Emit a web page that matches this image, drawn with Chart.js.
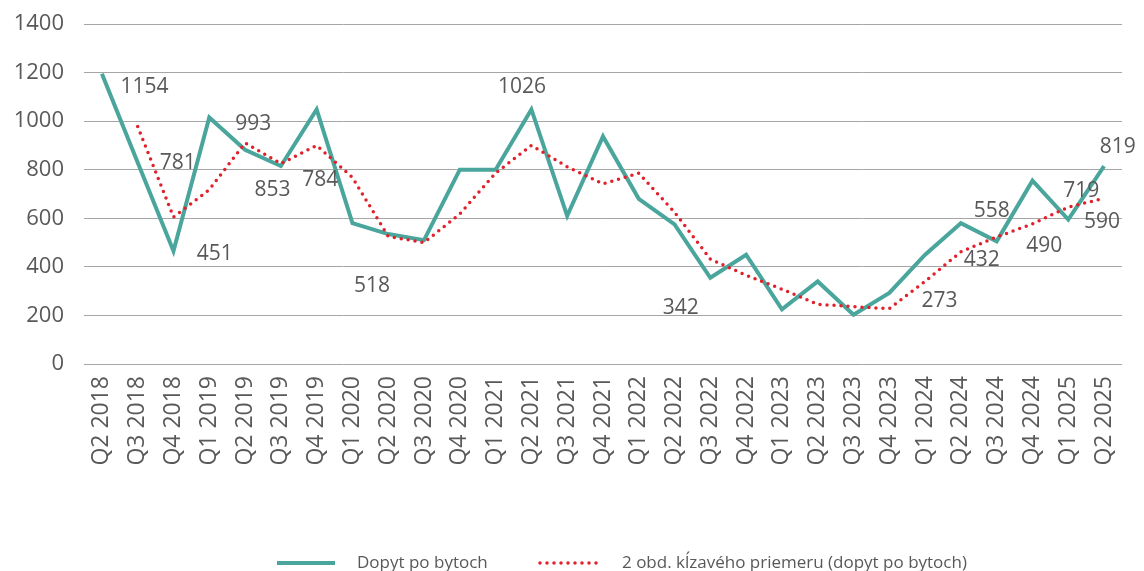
<!DOCTYPE html>
<html>
<head>
<meta charset="utf-8">
<script src="https://cdn.jsdelivr.net/npm/chart.js@4.4.1/dist/chart.umd.min.js"></script>
<style>
    html, body { margin: 0; padding: 0; background: #fff; }
    #wrap { width: 1144px; height: 571px; }
</style>
</head>
<body>
<div id="wrap"><canvas id="dopytChart"></canvas></div>
<script>
// Quarters on the x axis
const quarters = [
    'Q2 2018', 'Q3 2018', 'Q4 2018', 'Q1 2019', 'Q2 2019', 'Q3 2019', 'Q4 2019',
    'Q1 2020', 'Q2 2020', 'Q3 2020', 'Q4 2020', 'Q1 2021', 'Q2 2021', 'Q3 2021',
    'Q4 2021', 'Q1 2022', 'Q2 2022', 'Q3 2022', 'Q4 2022', 'Q1 2023', 'Q2 2023',
    'Q3 2023', 'Q4 2023', 'Q1 2024', 'Q2 2024', 'Q3 2024', 'Q4 2024', 'Q1 2025', 'Q2 2025'
];

// Dopyt po bytoch
const demand = [
    1195, 830, 465, 1015, 882, 815, 1048,
    580, 535, 510, 800, 800, 1048, 610,
    937, 680, 575, 355, 450, 225, 340,
    203, 293, 450, 580, 505, 755, 595, 815
];

// 2-period moving average
const movingAvg = [
    null, 978, 605, 718, 910, 825, 900,
    768, 525, 500, 618, 786, 900, 812,
    742, 786, 625, 432, 365, 308, 246,
    236, 228, 340, 462, 523, 577, 646, 682
];

// Value labels as they sit in the original picture (category index, value)
const labelTexts = ['1154', '781', '451', '993', '853', '784', '518', '1026', '342', '273', '432', '558', '490', '719', '590', '819'];
const labelIdx   = [1.19, 2.12, 3.15, 4.23, 4.77, 6.10, 7.55, 11.74, 16.17, 23.40, 24.58, 24.86, 26.33, 27.36, 27.94, 28.38];
const labelVal   = [1141, 828, 453, 988, 716, 758, 320, 1141, 230, 259, 428, 630, 486, 712, 585, 894];

const yTicks = [0, 200, 400, 600, 800, 1000, 1200, 1400];

const teal = '#4aa69c';
const red = '#e0202b';
const textGray = '#595959';
const fontFamily = "'Open Sans', 'DejaVu Sans', sans-serif";

// Draws the loose value labels
const valueLabels = {
    id: 'valueLabels',
    afterDatasetsDraw(chart) {
        const ctx = chart.ctx;
        const xs = chart.scales.x;
        const ys = chart.scales.y;
        ctx.save();
        ctx.font = '21px ' + fontFamily;
        ctx.fillStyle = textGray;
        ctx.textAlign = 'center';
        ctx.textBaseline = 'middle';
        labelTexts.forEach((t, i) => {
            ctx.fillText(t, xs.getPixelForValue(labelIdx[i]), ys.getPixelForValue(labelVal[i]));
        });
        ctx.restore();
    }
};

// Simple legend at the bottom
const bottomLegend = {
    id: 'bottomLegend',
    afterDraw(chart) {
        const ctx = chart.ctx;
        const y = 563;
        ctx.save();
        ctx.font = '17px ' + fontFamily;
        ctx.fillStyle = textGray;
        ctx.textBaseline = 'middle';
        ctx.textAlign = 'left';

        ctx.strokeStyle = teal;
        ctx.lineWidth = 4;
        ctx.beginPath();
        ctx.moveTo(277, y);
        ctx.lineTo(335, y);
        ctx.stroke();
        ctx.fillText(chart.data.datasets[1].label, 357, y);

        ctx.strokeStyle = red;
        ctx.lineWidth = 3.5;
        ctx.lineCap = 'round';
        ctx.setLineDash([0, 7]);
        ctx.beginPath();
        ctx.moveTo(540, y);
        ctx.lineTo(603, y);
        ctx.stroke();
        ctx.setLineDash([]);
        ctx.fillText(chart.data.datasets[0].label, 622, y);
        ctx.restore();
    }
};

const ctx = document.getElementById('dopytChart').getContext('2d');
const dopytChart = new Chart(ctx, {
    type: 'line',
    data: {
        labels: quarters,
        datasets: [
            {
                label: '2 obd. kĺzavého priemeru (dopyt po bytoch)',
                data: movingAvg,
                borderColor: red,
                borderWidth: 3.5,
                borderDash: [0, 7],
                borderCapStyle: 'round',
                pointRadius: 0,
                fill: false,
                order: 0
            },
            {
                label: 'Dopyt po bytoch',
                data: demand,
                borderColor: teal,
                borderWidth: 4,
                pointRadius: 0,
                fill: false,
                order: 1
            }
        ]
    },
    options: {
        responsive: true,
        maintainAspectRatio: false,
        animation: false,
        layout: {
            padding: { top: 24, left: 10, right: 20, bottom: 0 }
        },
        plugins: {
            legend: { display: false },
            tooltip: { enabled: false }
        },
        scales: {
            x: {
                offset: true,
                grid: { display: false, drawTicks: false },
                border: { display: false },
                ticks: {
                    color: textGray,
                    font: { family: fontFamily, size: 23 },
                    minRotation: 90,
                    maxRotation: 90,
                    padding: 12,
                    autoSkip: false
                },
                afterFit(scale) {
                    scale.height = 207;
                }
            },
            y: {
                min: 0,
                max: 1400,
                afterBuildTicks(scale) {
                    scale.ticks = yTicks.map(v => ({ value: v }));
                },
                grid: { color: '#a6a6a6', lineWidth: 1, drawTicks: false },
                border: { display: false },
                ticks: {
                    color: textGray,
                    font: { family: fontFamily, size: 22 },
                    padding: 20,
                    callback: value => String(value)
                },
                afterFit(scale) {
                    scale.width = 74;
                    scale.paddingTop = 0;
                    scale.paddingBottom = 0;
                }
            }
        }
    },
    plugins: [valueLabels, bottomLegend]
});
</script>
</body>
</html>
